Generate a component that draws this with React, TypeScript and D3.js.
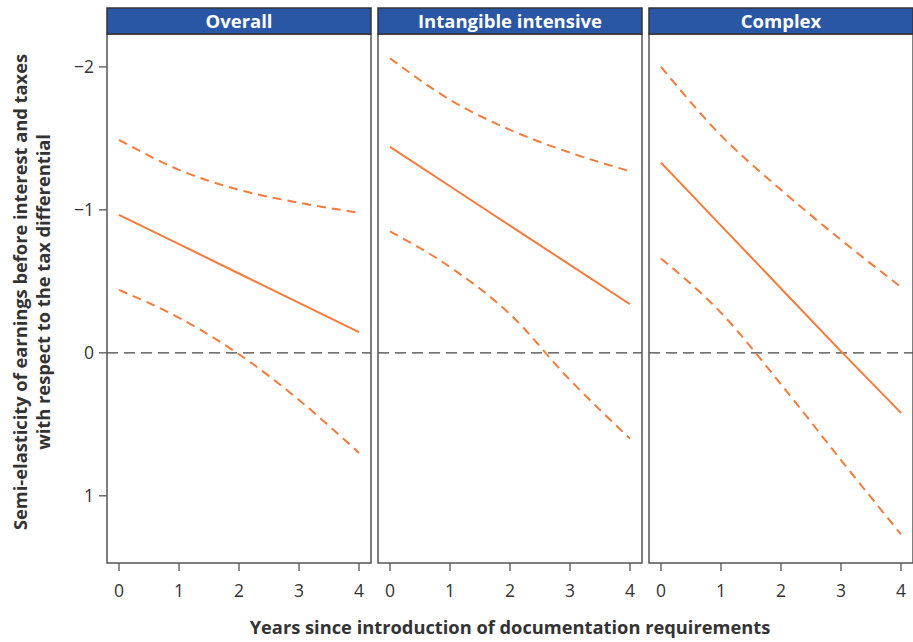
import React from 'react'
import * as d3 from 'd3'

const panels = ['Overall', 'Intangible intensive', 'Complex']
const years = [0, 1, 2, 3, 4]

// semi-elasticity estimates (plotted on a reversed axis)
const estimate = [
  [-0.965, -0.76, -0.555, -0.35, -0.145],
  [-1.44, -1.165, -0.89, -0.615, -0.34],
  [-1.33, -0.89, -0.45, -0.01, 0.42],
]
const upperBound = [
  [-1.49, -1.28, -1.14, -1.05, -0.98],
  [-2.06, -1.77, -1.56, -1.4, -1.27],
  [-2.0, -1.52, -1.14, -0.79, -0.46],
]
const lowerBound = [
  [-0.44, -0.245, 0.01, 0.33, 0.7],
  [-0.85, -0.6, -0.27, 0.19, 0.6],
  [-0.66, -0.28, 0.22, 0.75, 1.27],
]
const yTicks = [-2, -1, 0, 1]
const xTicks = [0, 1, 2, 3, 4]

const orange = '#f47b3b'
const blue = '#2a57a5'
const font = '"Open Sans", "Noto Sans", sans-serif'

const App = () => {
  const width = 913
  const height = 642
  const top = 34
  const bottom = 563
  const headerTop = 8
  const panelLeft = [107, 378, 649]
  const panelW = 264

  const y = d3.scaleLinear().domain([-2.23, 1.47]).range([top, bottom])

  const fmt = (v: number) => (v < 0 ? '\u2212' + Math.abs(v) : String(v))

  return (
    <svg
      width={width}
      height={height}
      style={{ position: 'absolute', left: 0, top: 0, fontFamily: font }}
    >
      <rect width={width} height={height} fill='#fff' />
      {panels.map((name, p) => {
        const x0 = panelLeft[p]
        const x = d3.scaleLinear().domain([-0.2, 4.2]).range([x0, x0 + panelW])
        const line = d3
          .line<number>()
          .x((_, i) => x(years[i]))
          .y((d) => y(d))
        const curve = d3
          .line<number>()
          .x((_, i) => x(years[i]))
          .y((d) => y(d))
          .curve(d3.curveMonotoneX)
        return (
          <g key={name}>
            {/* zero line */}
            <line
              x1={x0}
              x2={x0 + panelW}
              y1={y(0)}
              y2={y(0)}
              stroke='#444'
              strokeWidth={1.2}
              strokeDasharray='11 6'
            />
            <path d={line(estimate[p]) || ''} fill='none' stroke={orange} strokeWidth={2} />
            <path
              d={curve(upperBound[p]) || ''}
              fill='none'
              stroke={orange}
              strokeWidth={2}
              strokeDasharray='9 6'
            />
            <path
              d={curve(lowerBound[p]) || ''}
              fill='none'
              stroke={orange}
              strokeWidth={2}
              strokeDasharray='9 6'
            />
            {/* frame */}
            <rect
              x={x0}
              y={top}
              width={panelW}
              height={bottom - top}
              fill='none'
              stroke='#555'
              strokeWidth={1.5}
            />
            {/* header strip */}
            <rect
              x={x0}
              y={headerTop}
              width={panelW}
              height={top - headerTop}
              fill={blue}
              stroke='#333'
              strokeWidth={1.5}
            />
            <text
              x={x0 + panelW / 2}
              y={(headerTop + top) / 2 + 6.5}
              textAnchor='middle'
              fill='#fff'
              fontWeight='bold'
              fontSize={18.5}
            >
              {name}
            </text>
            {/* x axis */}
            {xTicks.map((t) => (
              <g key={t}>
                <line x1={x(t)} x2={x(t)} y1={bottom} y2={bottom + 8} stroke='#555' strokeWidth={1.3} />
                <text x={x(t)} y={bottom + 34} textAnchor='middle' fontSize={17.5} fill='#333'>
                  {t}
                </text>
              </g>
            ))}
          </g>
        )
      })}
      {/* y axis */}
      {yTicks.map((t) => (
        <g key={t}>
          <line x1={99} x2={107} y1={y(t)} y2={y(t)} stroke='#555' strokeWidth={1.3} />
          <text x={94} y={y(t) + 6.5} textAnchor='end' fontSize={17.5} fill='#333'>
            {fmt(t)}
          </text>
        </g>
      ))}
      <text
        transform={`translate(27, 292) rotate(-90)`}
        textAnchor='middle'
        fontSize={18.3}
        fontWeight='bold'
        fill='#333'
      >
        <tspan x={0} dy={0}>
          Semi-elasticity of earnings before interest and taxes
        </tspan>
        <tspan x={0} dy={23}>
          with respect to the tax differential
        </tspan>
      </text>
      <text
        x={510}
        y={634}
        textAnchor='middle'
        fontSize={18.3}
        fontWeight='bold'
        fill='#333'
      >
        Years since introduction of documentation requirements
      </text>
    </svg>
  )
}

export default App
